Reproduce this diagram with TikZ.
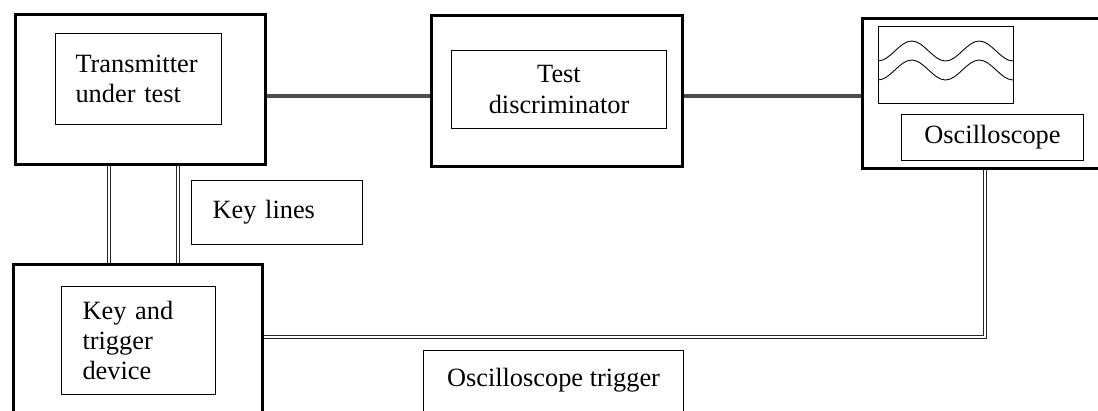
\documentclass[tikz,border=0pt]{standalone}
\usepackage{fontspec}
\setmainfont{Liberation Serif}
\usetikzlibrary{positioning}

\begin{document}
\begin{tikzpicture}[x=0.02cm, y=-0.02cm,
    every node/.append style={font=\fontsize{15}{17.2}\selectfont},
    outer/.style={draw, line width=1.7pt, anchor=north west, inner sep=0pt},
    inner/.style={draw, line width=0.6pt, anchor=north west},
    link/.style={line width=2pt, black!70},
    keyline/.style={double, double distance=0.9pt, line width=0.5pt, draw=black!85}]
    \useasboundingbox (0,0) rectangle (1098,410);
    \clip (0,0) rectangle (1098,410);

    \node [outer, minimum width=5cm, minimum height=3cm] (tx) at (14,13) {};
    \node [inner, minimum width=3.32cm, minimum height=1.82cm, text width=2.52cm, inner xsep=0.4cm, align=left] (txIn) at (55,33) {Transmitter\\under test};

    \node [outer, minimum width=5.02cm, minimum height=3.02cm] (disc) at (430,14) {};
    \node [inner, minimum width=4.3cm, minimum height=1.56cm, align=center] (discIn) at (451,50) {Test\\discriminator};

    \node [outer, minimum width=6cm, minimum height=3cm] (osc) at (861,17) {};
    \node [inner, minimum width=2.7cm, minimum height=1.54cm] (scr) at (878,26) {};
    \node [inner, minimum width=3.64cm, minimum height=0.92cm] (oscIn) at (901,114) {Oscilloscope};
    \foreach \yc in {61,80}
      \draw [line width=0.5pt] (878,\yc)
        cos ++(16.875,-10) sin ++(16.875,-10) cos ++(16.875,10) sin ++(16.875,10)
        cos ++(16.875,-10) sin ++(16.875,-10) cos ++(16.875,10) sin ++(16.875,10);

    \node [inner, minimum width=3.42cm, minimum height=1.28cm, text width=2.58cm, inner xsep=0.42cm, align=left] (klines) at (191,180) {Key lines};

    \node [outer, minimum width=4.98cm, minimum height=4cm] (key) at (12,263) {};
    \node [inner, minimum width=3.08cm, minimum height=2.16cm, text width=2.24cm, inner xsep=0.42cm, align=left] (keyIn) at (61,286) {Key and\\trigger\\device};

    \node [inner, minimum width=5.2cm, minimum height=2cm] (trig) at (423,350) {};
    \node [below=0.36cm of trig.north, inner sep=0pt] (trigT) {Oscilloscope trigger};

    \coordinate (sig) at (0,96);
    \draw [link] (tx.east |- sig) -- (disc.west |- sig);
    \draw [link] (disc.east |- sig) -- (osc.west |- sig);

    \coordinate (kl1) at (109,0);
    \coordinate (kl2) at (178,0);
    \draw [keyline] (tx.south -| kl1) -- (key.north -| kl1);
    \draw [keyline] (tx.south -| kl2) -- (key.north -| kl2);

    \coordinate (ot) at (985,337);
    \draw [keyline] (key.east |- ot) -- (ot) -- (osc.south -| ot);
  \end{tikzpicture}
\end{document}
